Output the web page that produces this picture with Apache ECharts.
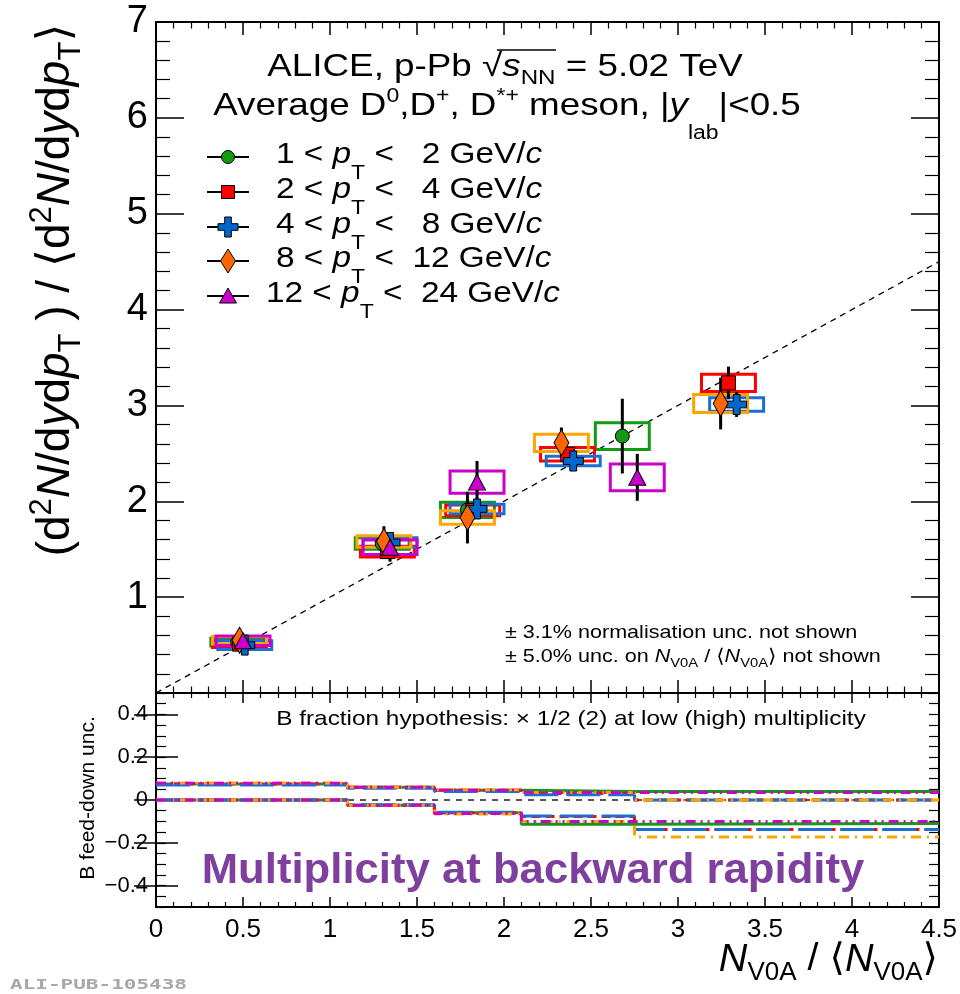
<!DOCTYPE html>
<html><head><meta charset="utf-8">
<script src="https://cdn.jsdelivr.net/npm/echarts@6/dist/echarts.min.js"></script>
<style>html,body{margin:0;padding:0;background:#fff}#c{width:960px;height:994px}</style>
</head><body><div id="c"></div>
<script>
// ================= DATA =================
// x = N_V0A/<N_V0A>, y = ratio, stat = stat. error (+-), sys = syst. error (+-)
const greenX   = [0.47, 1.30, 1.79, 2.68];
const greenY   = [0.53, 1.56, 1.91, 2.68];
const greenStat= [0.03, 0.07, 0.10, 0.39];
const greenSys = [0.04, 0.06, 0.08, 0.14];

const redX   = [0.48, 1.33, 1.82, 2.365, 3.29];
const redY   = [0.51, 1.475, 1.905, 2.49, 3.235];
const redStat= [0.03, 0.07, 0.08, 0.08, 0.17];
const redSys = [0.035, 0.057, 0.055, 0.07, 0.09];

const blueX   = [0.51, 1.345, 1.845, 2.398, 3.337];
const blueY   = [0.50, 1.57, 1.92, 2.42, 3.01];
const blueStat= [0.03, 0.05, 0.07, 0.05, 0.13];
const blueSys = [0.045, 0.05, 0.05, 0.05, 0.07];

const orangeX   = [0.48, 1.31, 1.79, 2.33, 3.245];
const orangeY   = [0.55, 1.58, 1.83, 2.61, 3.02];
const orangeStat= [0.07, 0.16, 0.27, 0.16, 0.27];
const orangeSys = [0.04, 0.06, 0.07, 0.09, 0.095];

const magentaX   = [0.50, 1.345, 1.845, 2.766];
const magentaY   = [0.545, 1.52, 2.20, 2.25];
const magentaStat= [0.04, 0.15, 0.22, 0.245];
const magentaSys = [0.05, 0.075, 0.115, 0.14];

const boxHalfWidth = 0.155;          // half width of syst. boxes (x units)
const diagX = [0, 4.5], diagY = [0, 4.5];

// B feed-down uncertainty (lower panel), bins in N_V0A/<N_V0A>
const fdEdges = [0, 1.1, 1.6, 2.1, 2.75, 4.5];
const fdGreenUp   = [0.075, 0.060, 0.045, 0.040, 0.040];
const fdGreenLo   = [0.000, -0.025, -0.060, -0.113, -0.110];
const fdRedUp     = [0.075, 0.060, 0.045, 0.030, 0.000];
const fdRedLo     = [0.000, -0.025, -0.060, -0.077, -0.138];
const fdBlueUp    = [0.070, 0.055, 0.040, 0.025, 0.000];
const fdBlueLo    = [0.000, -0.022, -0.057, -0.075, -0.138];
const fdOrangeUp  = [0.080, 0.060, 0.048, 0.035, 0.000];
const fdOrangeLo  = [0.000, -0.025, -0.065, -0.100, -0.173];
const fdMagentaUp = [0.078, 0.060, 0.045, 0.035, 0.035];
const fdMagentaLo = [0.000, -0.025, -0.063, -0.100, -0.100];
const zeroX = [0, 4.5], zeroY = [0, 0];

const lowerYLabels = [-0.4, -0.2, 0, 0.2, 0.4];
const lowerYMinor = [];
for (let k = -10; k <= 10; k++) lowerYMinor.push(k * 0.05);

const legendLabels = [
  '{n|1 < }{i|p}{sub|T}{n| <   2 GeV/}{i|c}',
  '{n|2 < }{i|p}{sub|T}{n| <   4 GeV/}{i|c}',
  '{n|4 < }{i|p}{sub|T}{n| <   8 GeV/}{i|c}',
  '{n|8 < }{i|p}{sub|T}{n| <  12 GeV/}{i|c}',
  '{n|12 < }{i|p}{sub|T}{n| <  24 GeV/}{i|c}'
];

// ================= STYLE =================
const FF = 'Liberation Sans, Arial, Helvetica, DejaVu Sans, sans-serif';
const cGreen = '#129a12', cRed = '#ff0000', cBlueM = '#0066cc', cBlueB = '#1a6fd0',
      cOrangeM = '#ff6600', cOrangeB = '#ffa500', cMag = '#cc00cc';
const crossPath = 'path://M33,0H67V33H100V67H67V100H33V67H0V33H33Z';

const groups = [
  {x: greenX, y: greenY, stat: greenStat, sys: greenSys, box: cGreen, mk: cGreen, sym: 'circle', size: 14,
   up: fdGreenUp, lo: fdGreenLo, line: cGreen, dash: 'solid'},
  {x: redX, y: redY, stat: redStat, sys: redSys, box: cRed, mk: cRed, sym: 'rect', size: 14,
   up: fdRedUp, lo: fdRedLo, line: cRed, dash: [9, 5]},
  {x: blueX, y: blueY, stat: blueStat, sys: blueSys, box: cBlueB, mk: cBlueM, sym: crossPath, size: 20,
   up: fdBlueUp, lo: fdBlueLo, line: cBlueB, dash: [34, 8]},
  {x: orangeX, y: orangeY, stat: orangeStat, sys: orangeSys, box: cOrangeB, mk: cOrangeM, sym: 'diamond', size: [15, 26],
   up: fdOrangeUp, lo: fdOrangeLo, line: cOrangeB, dash: [10, 6, 2, 6]},
  {x: magentaX, y: magentaY, stat: magentaStat, sys: magentaSys, box: cMag, mk: cMag, sym: 'triangle', size: [17, 16],
   up: fdMagentaUp, lo: fdMagentaLo, line: cMag, dash: [10, 5, 2, 5, 2, 5]}
];

function stepData(vals) {
  const d = [];
  for (let i = 0; i < vals.length; i++) { d.push([fdEdges[i], vals[i]]); d.push([fdEdges[i + 1], vals[i]]); }
  return d;
}

const series = [];
series.push({type: 'line', xAxisIndex: 0, yAxisIndex: 0, z: 1, silent: true, showSymbol: false,
  data: diagX.map((x, i) => [x, diagY[i]]), lineStyle: {color: '#000', width: 1.3, type: [6, 5]}});
groups.forEach(g => {
  series.push({type: 'custom', xAxisIndex: 0, yAxisIndex: 0, z: 2, silent: true,
    data: g.x.map((x, i) => [x, g.y[i] - g.sys[i], g.y[i] + g.sys[i]]),
    renderItem: (p, api) => {
      const a = api.coord([api.value(0) - boxHalfWidth, api.value(2)]);
      const b = api.coord([api.value(0) + boxHalfWidth, api.value(1)]);
      return {type: 'rect', shape: {x: a[0], y: a[1], width: b[0] - a[0], height: b[1] - a[1]},
        style: {fill: 'none', stroke: g.box, lineWidth: 3}};
    }});
});
groups.forEach(g => {
  series.push({type: 'custom', xAxisIndex: 0, yAxisIndex: 0, z: 3, silent: true,
    data: g.x.map((x, i) => [x, g.y[i] - g.stat[i], g.y[i] + g.stat[i]]),
    renderItem: (p, api) => {
      const a = api.coord([api.value(0), api.value(1)]);
      const b = api.coord([api.value(0), api.value(2)]);
      return {type: 'line', shape: {x1: a[0], y1: a[1], x2: b[0], y2: b[1]},
        style: {stroke: '#000', lineWidth: 3}};
    }});
});
groups.forEach(g => {
  series.push({type: 'scatter', xAxisIndex: 0, yAxisIndex: 0, z: 4, silent: true,
    data: g.x.map((x, i) => [x, g.y[i]]), symbol: g.sym, symbolSize: g.size,
    itemStyle: {color: g.mk, borderColor: '#000', borderWidth: 1, opacity: 1}});
});
series.push({type: 'line', xAxisIndex: 2, yAxisIndex: 2, z: 1, silent: true, showSymbol: false,
  data: zeroX.map((x, i) => [x, zeroY[i]]), lineStyle: {color: '#555', width: 2, type: [6, 6]}});
groups.forEach(g => {
  [g.up, g.lo].forEach(v => {
    series.push({type: 'line', xAxisIndex: 2, yAxisIndex: 2, z: 2, silent: true, showSymbol: false,
      data: stepData(v), lineStyle: {color: g.line, width: 3, type: g.dash}});
  });
});

const AX = {color: '#000', width: 2};
function xAx(grid, pos, lab, tl) {
  return {type: 'value', gridIndex: grid, position: pos, min: 0, max: 4.5, interval: 0.5,
    axisLine: {show: true, onZero: false, lineStyle: AX},
    axisTick: {show: true, inside: true, length: tl, lineStyle: {color: '#000', width: 1.5}},
    minorTick: {show: true, splitNumber: 5, length: tl / 2, lineStyle: {color: '#000', width: 1.2}},
    splitLine: {show: false}, minorSplitLine: {show: false},
    axisLabel: {show: lab, color: '#000', fontSize: 26, fontFamily: FF, margin: 10}};
}
function yMain(pos, lab) {
  return {type: 'value', gridIndex: 0, position: pos, min: 0, max: 7, interval: 1,
    axisLine: {show: true, onZero: false, lineStyle: AX},
    axisTick: {show: true, inside: true, length: 28, lineStyle: {color: '#000', width: 1.5}},
    minorTick: {show: true, splitNumber: 5, length: 14, lineStyle: {color: '#000', width: 1.2}},
    splitLine: {show: false}, minorSplitLine: {show: false},
    axisLabel: {show: lab, color: '#000', fontSize: 38, fontFamily: FF, margin: 8,
      formatter: v => v === 0 ? '' : String(v)}};
}
function fmtLow(v) { if (Math.abs(v) < 1e-9) return '0'; return (v < 0 ? '\u2212' : '') + Math.abs(v).toFixed(1); }
function yLow(pos, lab) {
  return {type: 'value', gridIndex: 1, position: pos, min: -0.5, max: 0.5, interval: 0.05,
    axisLine: {show: true, onZero: false, lineStyle: AX},
    axisTick: {show: true, inside: true, length: 10, customValues: lowerYMinor, lineStyle: {color: '#000', width: 1.2}},
    splitLine: {show: false},
    axisLabel: {show: lab, color: '#000', fontSize: 22, fontFamily: FF, margin: 8,
      customValues: lowerYLabels, formatter: fmtLow}};
}
function yLowMajor(pos) {
  return {type: 'value', gridIndex: 1, position: pos, min: -0.5, max: 0.5, interval: 0.05,
    axisLine: {show: false},
    axisTick: {show: true, inside: true, length: 22, customValues: lowerYLabels, lineStyle: {color: '#000', width: 1.5}},
    splitLine: {show: false}, axisLabel: {show: false}};
}

// ---------- rich text helper (sub/superscripts shifted by padding) ----------
function mkRich(fs, subFs, subOff, supFs, supOff, extra) {
  const L = Math.ceil(2 * Math.max(subOff, supOff) + Math.max(fs, subFs, supFs) * 1.3 + 8);
  const base = Object.assign({fontFamily: FF, fill: '#000', lineHeight: L, verticalAlign: 'middle'}, extra || {});
  return {
    L: L,
    rich: {
      n: Object.assign({}, base, {fontSize: fs}),
      i: Object.assign({}, base, {fontSize: fs, fontStyle: 'italic'}),
      sub: Object.assign({}, base, {fontSize: subFs, padding: [2 * subOff, 0, 0, 0]}),
      sup: Object.assign({}, base, {fontSize: supFs, padding: [0, 0, 2 * supOff, 0]})
    }
  };
}
function rtext(txt, x, y, align, r, opts) {
  opts = opts || {};
  return Object.assign({type: 'text', x: x, y: y, z: 100, silent: true,
    style: {text: txt, rich: r.rich, lineHeight: r.L, align: align, textAlign: align,
      verticalAlign: 'middle', textVerticalAlign: 'middle', fontFamily: FF, fill: '#000'}}, opts);
}

const graphics = [];
// Y title (main)
const rY = mkRich(46, 31, 15, 31, 14);
graphics.push(rtext('{n|(d}{sup|2}{i|N}{n|/d}{i|y}{n|d}{i|p}{sub|T}{n| ) / \u27E8d}{sup|2}{i|N}{n|/d}{i|y}{n|d}{i|p}{sub|T}{n|\u27E9}',
  56, 290, 'center', rY, {rotation: Math.PI / 2}));
// Y title (lower)
const rY2 = mkRich(21, 14, 6, 14, 6);
graphics.push(rtext('{n|B feed-down unc.}', 88, 798, 'center', rY2, {rotation: Math.PI / 2}));
// X title
const rX = mkRich(38, 25, 13, 25, 10);
graphics.push(rtext('{i|N}{sub|V0A}{n| / \u27E8}{i|N}{sub|V0A}{n|\u27E9}', 938, 960, 'right', rX, {scaleX: 1.04}));
// header
const rH = mkRich(32, 21, 11, 20, 10);
graphics.push(rtext('{n|ALICE, p-Pb }{n|\u221A}{i|s}{sub|NN}{n| = 5.02 TeV}', 505, 67, 'center', rH, {scaleX: 1.15}));
graphics.push({type: 'line', z: 100, silent: true, shape: {x1: 497, y1: 50, x2: 556, y2: 50}, style: {stroke: '#000', lineWidth: 1.5}});
const rH2 = mkRich(32, 20, 27, 20, 10);
graphics.push(rtext('{n|Average D}{sup|0}{n|,D}{sup|+}{n|, D}{sup|*+}{n| meson, |}{i|y}{sub|lab}{n||<0.5}', 507, 106, 'center', rH2, {scaleX: 1.15}));
// legend
const rL = mkRich(29, 20, 18, 20, 10);
const legY = [157, 192, 227, 261, 296];
const lx = 228;
groups.forEach((g, k) => {
  const y = legY[k];
  graphics.push({type: 'line', z: 100, silent: true, shape: {x1: 207, y1: y, x2: 249, y2: y}, style: {stroke: '#000', lineWidth: 2}});
  const st = {fill: g.mk, stroke: '#000', lineWidth: 1};
  let shp;
  if (k === 0) shp = {type: 'circle', shape: {cx: lx, cy: y, r: 6.5}};
  else if (k === 1) shp = {type: 'rect', shape: {x: lx - 6.5, y: y - 6.5, width: 13, height: 13}};
  else if (k === 2) shp = {type: 'polygon', shape: {points: [[lx - 3.3, y - 10], [lx + 3.3, y - 10], [lx + 3.3, y - 3.3], [lx + 10, y - 3.3], [lx + 10, y + 3.3], [lx + 3.3, y + 3.3], [lx + 3.3, y + 10], [lx - 3.3, y + 10], [lx - 3.3, y + 3.3], [lx - 10, y + 3.3], [lx - 10, y - 3.3], [lx - 3.3, y - 3.3]]}};
  else if (k === 3) shp = {type: 'polygon', shape: {points: [[lx, y - 12], [lx + 7.5, y], [lx, y + 12], [lx - 7.5, y]]}};
  else shp = {type: 'polygon', shape: {points: [[lx, y - 8], [lx + 8.5, y + 7], [lx - 8.5, y + 7]]}};
  graphics.push(Object.assign(shp, {z: 101, silent: true, style: st}));
  graphics.push(rtext(legendLabels[k], k === 4 ? 266 : 276, y - 2, 'left', rL, {scaleX: 1.15}));
});
// notes
const rN = mkRich(19, 13, 6, 13, 6);
graphics.push(rtext('{n|\u00B1 3.1% normalisation unc. not shown}', 505, 633, 'left', rN, {scaleX: 1.135}));
graphics.push(rtext('{n|\u00B1 5.0% unc. on }{i|N}{sub|V0A}{n| / \u27E8}{i|N}{sub|V0A}{n|\u27E9 not shown}', 505, 657, 'left', rN, {scaleX: 1.135}));
const rB = mkRich(21, 14, 6, 14, 6);
graphics.push(rtext('{n|B fraction hypothesis: \u00D7 1/2 (2) at low (high) multiplicity}', 571, 719, 'center', rB, {scaleX: 1.16}));
const rM = mkRich(42, 20, 5, 20, 5, {fontWeight: 'bold', fill: '#7f3f9f'});
graphics.push(rtext('{n|Multiplicity at backward rapidity}', 533, 871, 'center', rM, {scaleX: 1.04}));
graphics.push({type: 'text', x: 10, y: 985, z: 100, silent: true, scaleX: 1.5,
  style: {text: 'ALI-PUB-105438', fontFamily: 'DejaVu Sans Mono, monospace', fontWeight: 'bold', fontSize: 14,
    fill: '#a8a8a8', align: 'left', textAlign: 'left', verticalAlign: 'middle', textVerticalAlign: 'middle'}});

const chart = echarts.init(document.getElementById('c'), null, {renderer: 'canvas'});
chart.setOption({
  animation: false,
  backgroundColor: '#fff',
  grid: [
    {left: 156, top: 22, width: 783, height: 671, containLabel: false, outerBoundsMode: 'none'},
    {left: 156, top: 693, width: 783, height: 214, containLabel: false, outerBoundsMode: 'none'}
  ],
  xAxis: [xAx(0, 'bottom', false, 13), xAx(0, 'top', false, 13), xAx(1, 'bottom', true, 10), xAx(1, 'top', false, 10)],
  yAxis: [yMain('left', true), yMain('right', false), yLow('left', true), yLow('right', false), yLowMajor('left'), yLowMajor('right')],
  series: series,
  graphic: graphics
});
</script></body></html>
